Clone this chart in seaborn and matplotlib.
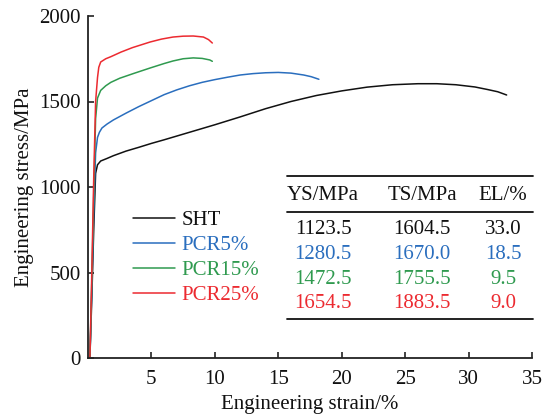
import numpy as np
import pandas as pd
import matplotlib
matplotlib.use("Agg")
import matplotlib.pyplot as plt
import seaborn as sns

# ---- data ----
sht_strain = [0.15, 0.3, 0.45, 0.6, 0.75, 1.0, 1.5, 2, 3, 4, 5, 6, 7, 8, 9, 10, 12, 14, 16, 18, 20, 22, 24, 26, 27.5, 29, 30.5, 31.5, 32.3, 33.0]
sht_stress = [0, 350, 750, 1080, 1130, 1152, 1167, 1183, 1210, 1232, 1255, 1276, 1298, 1320, 1342, 1364, 1410, 1458, 1500, 1535, 1562, 1584, 1598, 1604, 1604, 1598, 1585, 1570, 1557, 1538]

pcr5_strain = [0.15, 0.3, 0.45, 0.6, 0.75, 0.9, 1.1, 1.5, 2, 3, 4, 5, 6, 7, 8, 9, 10, 11, 12, 13, 14, 15, 16, 17, 17.6, 18.2]
pcr5_stress = [0, 400, 850, 1200, 1290, 1320, 1345, 1368, 1392, 1432, 1470, 1505, 1540, 1568, 1592, 1612, 1628, 1642, 1655, 1663, 1668, 1670, 1666, 1655, 1645, 1630]

pcr15_strain = [0.15, 0.3, 0.45, 0.6, 0.75, 1.0, 1.4, 1.8, 2.5, 3.6, 4.9, 6.0, 6.7, 7.5, 8.3, 9.0, 9.6, 9.8]
pcr15_stress = [0, 450, 950, 1400, 1520, 1565, 1592, 1612, 1636, 1664, 1696, 1722, 1737, 1750, 1755, 1752, 1743, 1735]

pcr25_strain = [0.15, 0.3, 0.45, 0.6, 0.75, 0.85, 1.0, 1.4, 1.8, 2.6, 3.5, 4.9, 5.8, 6.7, 7.5, 8.3, 9.1, 9.5, 9.8]
pcr25_stress = [0, 500, 1050, 1500, 1640, 1700, 1731, 1750, 1762, 1789, 1815, 1848, 1865, 1877, 1882, 1883, 1877, 1862, 1842]

labels = ["SHT", "PCR5%", "PCR15%", "PCR25%"]
colors = ["#111111", "#2a6ebe", "#2f9a4f", "#ec2a30"]

table_header = ["YS/MPa", "TS/MPa", "EL/%"]
ys_values = ["1123.5", "1280.5", "1472.5", "1654.5"]
ts_values = ["1604.5", "1670.0", "1755.5", "1883.5"]
el_values = ["33.0", "18.5", "9.5", "9.0"]

x_ticks = [5, 10, 15, 20, 25, 30, 35]
y_ticks = [0, 500, 1000, 1500, 2000]

# ---- build long-form table ----
frames = []
for lab, sx, sy in zip(labels,
                       [sht_strain, pcr5_strain, pcr15_strain, pcr25_strain],
                       [sht_stress, pcr5_stress, pcr15_stress, pcr25_stress]):
    frames.append(pd.DataFrame({"strain": sx, "stress": sy, "sample": lab}))
df = pd.concat(frames, ignore_index=True)

sns.set_style("ticks")
plt.rcParams["font.family"] = ["Liberation Serif", "DejaVu Serif"]

FS = 15
fig = plt.figure(figsize=(5.43, 4.17), dpi=100)
L, R, B, T = 88, 532, 358, 16
ax = fig.add_axes([L / 543, (417 - B) / 417, (R - L) / 543, (B - T) / 417])

sns.lineplot(data=df, x="strain", y="stress", hue="sample", hue_order=labels,
             palette=dict(zip(labels, colors)), sort=False, estimator=None,
             linewidth=1.1, ax=ax)

ax.set_xlim(0, 35)
ax.set_ylim(0, 2000)
ax.set_xticks(x_ticks)
ax.set_yticks(y_ticks)
sns.despine(ax=ax)
for s in ["left", "bottom"]:
    ax.spines[s].set_linewidth(1.3)
    ax.spines[s].set_color("#222222")
ax.tick_params(direction="in", length=4, width=1.2, colors="#222222",
               labelsize=FS, labelcolor="#111111")
ax.tick_params(axis="x", pad=9)
ax.tick_params(axis="y", pad=5)
ax.set_xlabel("Engineering strain/%", fontsize=FS, color="#111111", labelpad=4)
ax.set_ylabel("Engineering stress/MPa", fontsize=FS, color="#111111", labelpad=4)

leg = ax.legend(loc="upper left", bbox_to_anchor=(0.101, 0.432), frameon=False,
                fontsize=FS, handlelength=2.0, handletextpad=0.35,
                labelspacing=0.26, borderpad=0, borderaxespad=0,
                labelcolor="linecolor")
for h in leg.get_lines():
    h.set_linewidth(1.1)

# ---- inset table ----
def fy(py):
    return (B - py) / (B - T)

def fx(px):
    return (px - L) / (R - L)

tkw = dict(transform=ax.transAxes, clip_on=False)
for py in [176, 212, 319]:
    ax.plot([fx(287), fx(533)], [fy(py), fy(py)], color="#111111", lw=1.3, **tkw)
col_x = [fx(323), fx(422), fx(503)]
for cx, h in zip(col_x, table_header):
    ax.text(cx, fy(196), h, ha="center", va="center", fontsize=FS, color="#111111",
            transform=ax.transAxes)
row_y = [fy(230), fy(254.5), fy(279), fy(303)]
for ry, c, a, b, e in zip(row_y, colors, ys_values, ts_values, el_values):
    for cx, v in zip(col_x, [a, b, e]):
        ax.text(cx, ry, v, ha="center", va="center", fontsize=FS, color=c,
                transform=ax.transAxes)

fig.savefig("out.png", dpi=100)
